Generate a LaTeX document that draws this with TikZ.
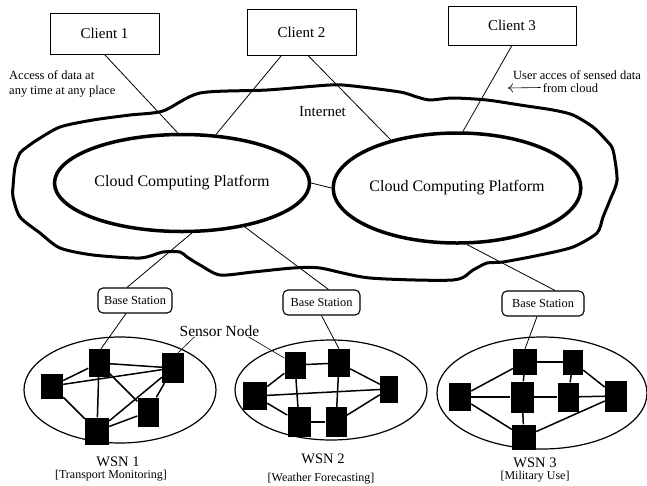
\documentclass[tikz,border=0pt]{standalone}
\usepackage{fontspec}
\setmainfont{Liberation Serif}
\usetikzlibrary{shapes.geometric,arrows.meta}
\tikzset{
  client/.style={draw, line width=0.9pt, inner sep=0pt, font=\fontsize{15}{17}\selectfont},
  cloudplat/.style={draw, ellipse, line width=3.5pt, inner sep=0pt, font=\fontsize{16}{18}\selectfont},
  basest/.style={draw, rounded corners=5pt, line width=1.1pt, inner sep=0pt, font=\fontsize{12.3}{14}\selectfont},
  wsn/.style={draw, ellipse, line width=1.2pt, inner sep=0pt},
  sn/.style={fill=black, draw=none, inner sep=0pt},
  link/.style={line width=0.8pt},
  mesh/.style={line width=1.5pt},
  note/.style={inner sep=0pt, font=\fontsize{12.5}{15}\selectfont},
  wsnlabel/.style={inner sep=0pt, font=\fontsize{14.5}{16}\selectfont},
  usage/.style={inner sep=0pt, font=\fontsize{12}{14}\selectfont},
}
\begin{document}
\begin{tikzpicture}[x=1pt,y=-1pt]
\useasboundingbox[fill=white] (0,0) rectangle (647,485);

% Internet cloud outline
\draw[line width=3pt, line join=round] plot[smooth cycle, tension=0.45] coordinates {
 (200,93) (267,90) (330,85) (353,86) (400,92) (417,97) (430,100) (453,98)
 (487,100) (520,105) (553,110) (573,115) (593,127) (606,140) (613,150) (617,180)
 (610,200) (603,217) (597,233) (573,247) (540,255) (503,262) (487,263) (473,270)
 (453,280) (370,278) (320,268) (293,268) (253,272) (220,275) (200,265) (187,257)
 (180,252) (163,252) (140,258) (93,255) (60,248) (40,233) (20,217) (13,197)
 (13,187) (15,167) (20,153) (27,147) (37,140) (60,127) (93,120) (130,115) (163,111)
};

% Clients
\node[client, minimum width=109, minimum height=41] (c1) at (104.5,33.5) {Client 1};
\node[client, minimum width=109, minimum height=46] (c2) at (301.5,32) {Client 2};
\node[client, minimum width=128, minimum height=39] (c3) at (512,25.5) {Client 3};

% Notes
\node[note, anchor=west, align=left] (acc) at (9,83.5) {Access of data at\\any time at any place};
\node[note] (user) at (577,75) {User acces of sensed data};
\node[note] (fromc) at (570.5,88.5) {from cloud};
\coordinate (arrtip) at (508,88);
\draw[line width=0.6pt, -{To[length=5pt,width=9pt]}] ([xshift=-2pt,yshift=1pt]fromc.west) -- (arrtip);

\node[inner sep=0pt, font=\fontsize{15}{17}\selectfont] (inet) at (322.5,112) {Internet};

% Cloud computing platforms
\node[cloudplat, minimum width=255, minimum height=97] (cp1) at (182,183) {Cloud Computing Platform};
\node[cloudplat, minimum width=246, minimum height=110] (cp2) at (457,188) {Cloud Computing Platform};
\draw[link] (cp1.east) -- (cp2.west);

% Client connections
\draw[link] (c1.south) -- (cp1.95);
\draw[link] ([xshift=-20pt]c2.south) -- (cp1.55);
\draw[link] ([xshift=6.5pt]c2.south) -- (cp2.144);
\draw[link] (c3.south) -- (cp2.84);

% Base stations
\node[basest, minimum width=74, minimum height=25] (bs1) at (135,300.5) {Base Station};
\node[basest, minimum width=77, minimum height=25] (bs2) at (321.5,302.5) {Base Station};
\node[basest, minimum width=82, minimum height=25] (bs3) at (543,303.5) {Base Station};

\draw[link] (cp1.-79) -- ([xshift=-8pt]bs1.north);
\draw[link] (cp1.-35) -- ([xshift=7pt]bs2.north);
\draw[link] (cp2.-80) -- ([xshift=12pt]bs3.north);

% WSN areas
\node[wsn, minimum width=192, minimum height=106] (w1) at (120,390) {};
\node[wsn, minimum width=192, minimum height=100] (w2) at (331,390) {};
\node[wsn, minimum width=210, minimum height=112] (w3) at (542,393) {};

% WSN 1 nodes
\node[sn, minimum width=21, minimum height=28] (A) at (99,363) {};
\node[sn, minimum width=22, minimum height=30] (B) at (173,368) {};
\node[sn, minimum width=22, minimum height=25] (C) at (52,386) {};
\node[sn, minimum width=21, minimum height=29] (D) at (148,412) {};
\node[sn, minimum width=24, minimum height=27] (E) at (97,431) {};
\draw[mesh] (A) -- (B);
\draw[mesh] (A) -- (C);
\draw[mesh] (C) -- (B);
\draw[mesh] (C) -- (E);
\draw[mesh] (A) -- (E);
\draw[mesh] (A) -- (D);
\draw[mesh] (B) -- (E);
\draw[mesh] (B) -- (D);
\draw[mesh] (E) -- (D);
\draw[link] ([xshift=-9pt]bs1.south) -- ([xshift=2pt]A.north);

% WSN 2 nodes
\node[sn, minimum width=21, minimum height=27] (F) at (295,365) {};
\node[sn, minimum width=22, minimum height=28] (G) at (339,363) {};
\node[sn, minimum width=24, minimum height=28] (H) at (255,396) {};
\node[sn, minimum width=18, minimum height=27] (I) at (389,389) {};
\node[sn, minimum width=23, minimum height=30] (J) at (299,422) {};
\node[sn, minimum width=21, minimum height=30] (K) at (336,422) {};
\draw[mesh] (F) -- (G);
\draw[mesh] (F) -- (H);
\draw[mesh] (F) -- (J);
\draw[mesh] (G) -- (K);
\draw[mesh] (G) -- (I);
\draw[mesh] (H) -- (I);
\draw[mesh] (H) -- (J);
\draw[mesh] (J) -- (K);
\draw[mesh] (K) -- (I);
\draw[link] (bs2.south) -- (G.north);

% WSN 3 nodes
\node[sn, minimum width=24, minimum height=26] (L) at (525,362) {};
\node[sn, minimum width=20, minimum height=25] (M) at (573,362) {};
\node[sn, minimum width=22, minimum height=28] (N) at (460,397) {};
\node[sn, minimum width=23, minimum height=31] (O) at (522,397) {};
\node[sn, minimum width=21, minimum height=29] (P) at (568,397) {};
\node[sn, minimum width=22, minimum height=31] (Q) at (616,396) {};
\node[sn, minimum width=24, minimum height=25] (R) at (524,437) {};
\draw[mesh] (L) -- (M);
\draw[mesh] (L) -- (N);
\draw[mesh] (L) -- (O);
\draw[mesh] (M) -- (P);
\draw[mesh] (M) -- (Q);
\draw[mesh] (N) -- (O);
\draw[mesh] (O) -- (P);
\draw[mesh] (P) -- (Q);
\draw[mesh] (N) -- (R);
\draw[mesh] (O) -- (R);
\draw[mesh] (R) -- (Q);
\draw[link] ([xshift=-6pt]bs3.south) -- (L.north);

% Sensor node label
\node[inner sep=0pt, anchor=base, font=\fontsize{15.5}{17}\selectfont] (sens) at (219.5,336.5) {Sensor Node};
\draw[line width=0.6pt] ([xshift=-25pt]sens.south) -- ([xshift=5pt]B.north);
\draw[line width=0.6pt] ([xshift=29pt]sens.south) -- ([yshift=7pt]F.west);

% WSN labels
\node[wsnlabel] (l1) at (118,462) {WSN 1};
\node[usage] (u1) at (111,476) {[Transport Monitoring]};
\node[wsnlabel] (l2) at (323,459) {WSN 2};
\node[usage] (u2) at (321,478.5) {[Weather Forecasting]};
\node[wsnlabel] (l3) at (535,463) {WSN 3};
\node[usage] (u3) at (535,477) {[Military Use]};
\end{tikzpicture}
\end{document}
